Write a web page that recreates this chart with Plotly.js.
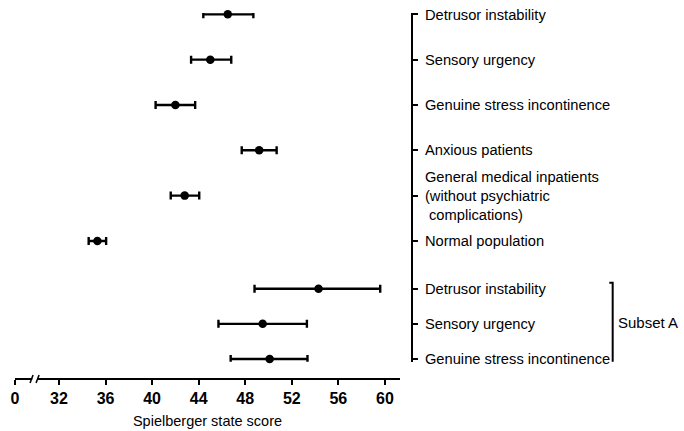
<!DOCTYPE html>
<html>
<head>
<meta charset="utf-8">
<script src="https://cdn.plot.ly/plotly-3.0.1.min.js"></script>
<style>html,body{margin:0;padding:0;background:#fff;}#chart{width:684px;height:431px;}</style>
</head>
<body>
<div id="chart"></div>
<script>
// Main groups
var mainLabels = ["Detrusor instability", "Sensory urgency", "Genuine stress incontinence",
  "Anxious patients", "General medical inpatients<br>(without psychiatric<br> complications)", "Normal population"];
var mainMean  = [46.5, 45.0, 42.0, 49.2, 42.8, 35.3];
var mainMinus = [2.1, 1.65, 1.7, 1.5, 1.2, 0.75];
var mainPlus  = [2.2, 1.8, 1.7, 1.5, 1.25, 0.75];

// Subset A
var subsetLabels = ["Detrusor instability", "Sensory urgency", "Genuine stress incontinence"];
var subsetMean  = [54.3, 49.5, 50.1];
var subsetMinus = [5.5, 3.8, 3.35];
var subsetPlus  = [5.3, 3.8, 3.25];
var subsetName = "Subset A";

// x axis tick labels (0 shown before the scale break)
var xTickLabels = ["0", "32", "36", "40", "44", "48", "52", "56", "60"];
var xTickNums = [32, 36, 40, 44, 48, 52, 56, 60];

var FONT = '"Liberation Sans", Arial, Helvetica, sans-serif';
var xMin = 28.22, xMax = 61.3;
var breakAt = 29.9;

function idx(a){ return a.map(function(_, i){ return i; }); }

var markerStyle = {color: '#000', size: 8.5};
function errStyle(plus, minus){
  return {type: 'data', symmetric: false, array: plus, arrayminus: minus,
          color: '#000', thickness: 2.4, width: 4};
}

var traces = [
  {type: 'scatter', mode: 'markers', x: mainMean, y: idx(mainMean), xaxis: 'x', yaxis: 'y2',
   marker: markerStyle, error_x: errStyle(mainPlus, mainMinus), cliponaxis: false,
   hoverinfo: 'x', showlegend: false},
  {type: 'scatter', mode: 'markers', x: subsetMean, y: idx(subsetMean), xaxis: 'x', yaxis: 'y',
   marker: markerStyle, error_x: errStyle(subsetPlus, subsetMinus), cliponaxis: false,
   hoverinfo: 'x', showlegend: false}
];

var yCommon = {
  anchor: 'free', position: 1, side: 'right', showline: true, linewidth: 2, linecolor: '#000',
  ticks: 'outside', ticklen: 5, tickwidth: 2, tickcolor: '#000', showgrid: false, zeroline: false,
  tickfont: {family: FONT, size: 14.7, color: '#000'}, ticklabelstandoff: 4
};

var layout = {
  width: 684, height: 431,
  margin: {l: 15, r: 272, t: 13, b: 52},
  paper_bgcolor: '#fff', plot_bgcolor: '#fff',
  font: {family: FONT, color: '#000'},
  showlegend: false,
  xaxis: {
    domain: [0, 0.9698], range: [xMin, xMax], anchor: 'free', position: 0,
    showline: false, showgrid: false, zeroline: false,
    tickmode: 'array', tickvals: [xMin].concat(xTickNums), ticktext: xTickLabels,
    ticks: 'outside', ticklen: 5, tickwidth: 2, tickcolor: '#000',
    tickfont: {family: FONT, size: 16, color: '#000', weight: 'bold'},
    title: {text: 'Spielberger state score', font: {family: FONT, size: 14.5, color: '#000'}, standoff: 9}
  },
  yaxis2: Object.assign({}, yCommon, {
    domain: [0.311, 1], range: [5.535, -0.03],
    tickmode: 'array', tickvals: idx(mainLabels), ticktext: mainLabels
  }),
  yaxis: Object.assign({}, yCommon, {
    domain: [0.047, 0.311], range: [2.08, -0.671],
    tickmode: 'array', tickvals: idx(subsetLabels), ticktext: subsetLabels
  }),
  shapes: [
    // axis line with scale break
    {type: 'line', xref: 'x', yref: 'paper', x0: xMin, x1: breakAt - 0.2, y0: 0, y1: 0,
     line: {color: '#000', width: 2}},
    {type: 'line', xref: 'x', yref: 'paper', x0: breakAt + 0.3, x1: xMax, y0: 0, y1: 0,
     line: {color: '#000', width: 2}},
    {type: 'line', xref: 'x', yref: 'paper', xsizemode: 'pixel', xanchor: breakAt,
     ysizemode: 'pixel', yanchor: 0, x0: -4.5, x1: -1.5, y0: -4, y1: 4,
     line: {color: '#000', width: 1.5}},
    {type: 'line', xref: 'x', yref: 'paper', xsizemode: 'pixel', xanchor: breakAt,
     ysizemode: 'pixel', yanchor: 0, x0: 1.5, x1: 4.5, y0: -4, y1: 4,
     line: {color: '#000', width: 1.5}},
    // Subset A bracket
    {type: 'path', xref: 'paper', yref: 'y',
     path: 'M 1.497 -0.17 L 1.5055 -0.17 L 1.5055 2.26 L 1.497 2.26',
     line: {color: '#000', width: 2}}
  ],
  annotations: [
    {xref: 'paper', yref: 'y', x: 1.514, y: 0.95, xanchor: 'left', yanchor: 'middle',
     text: subsetName, showarrow: false, font: {family: FONT, size: 15, color: '#000'}}
  ]
};

Plotly.newPlot('chart', traces, layout, {displayModeBar: false, staticPlot: true});
</script>
</body>
</html>
